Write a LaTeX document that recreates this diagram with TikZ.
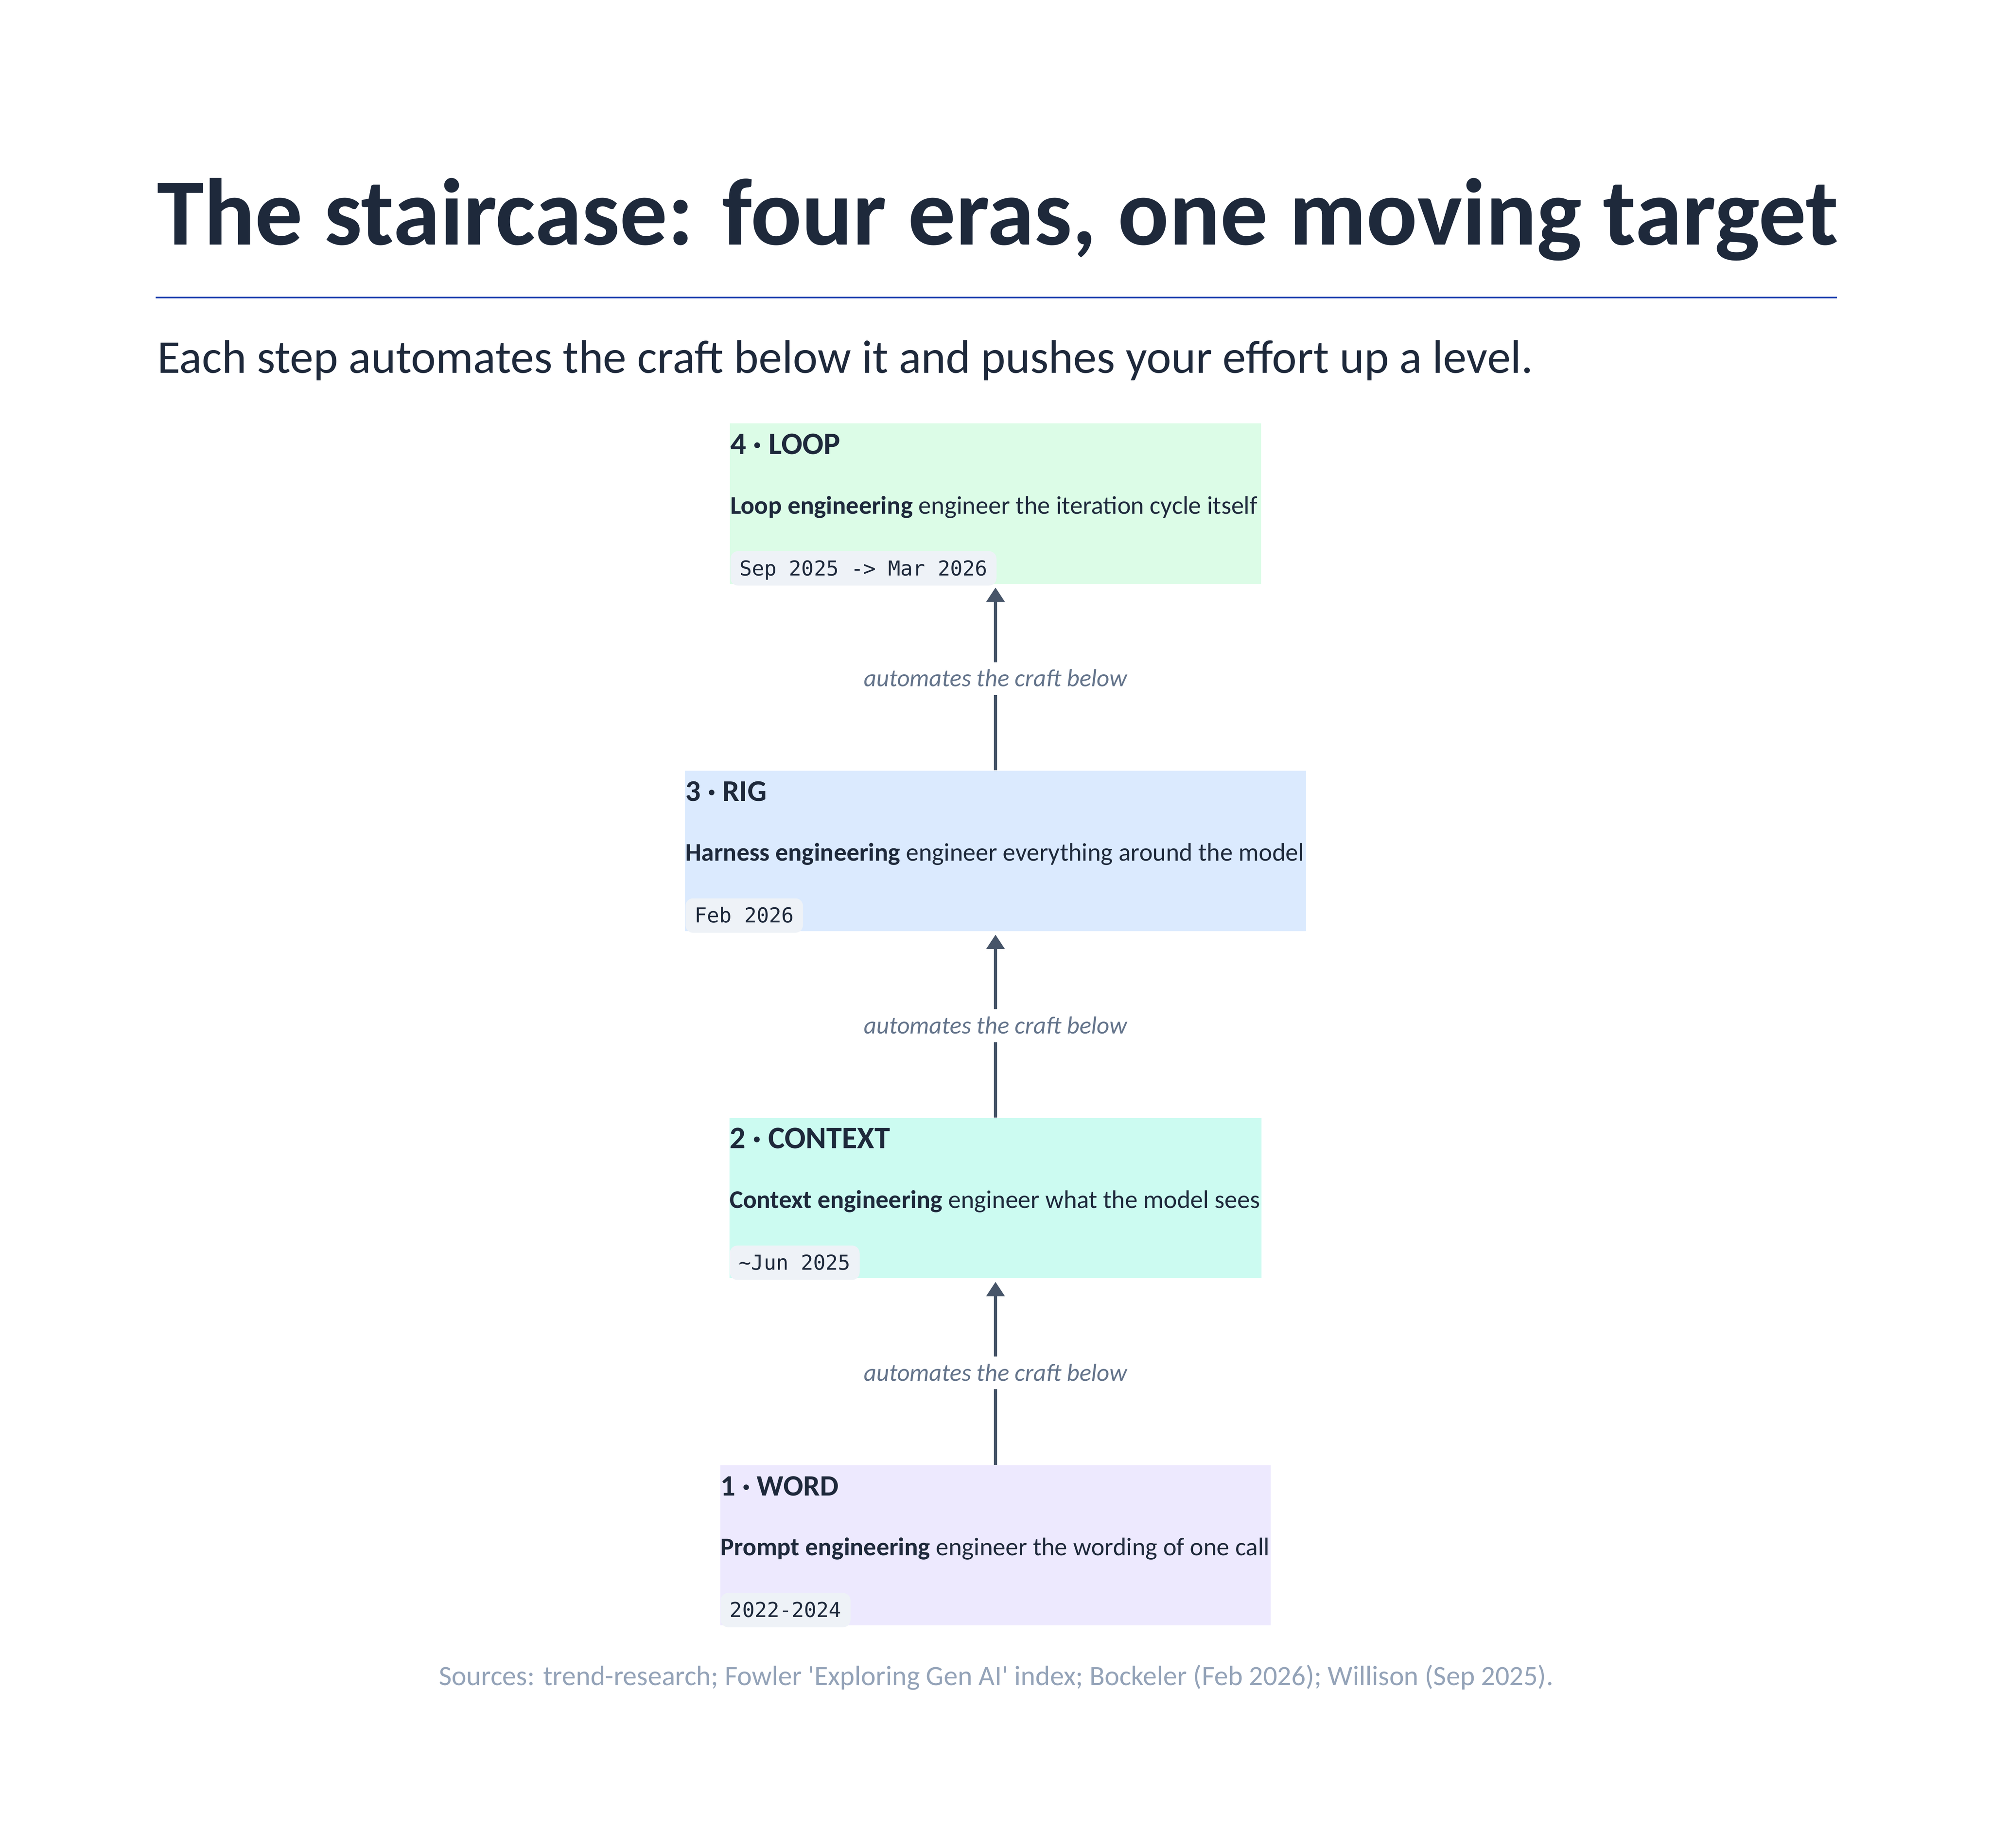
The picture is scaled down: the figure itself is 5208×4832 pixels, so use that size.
\documentclass[tikz,border=0pt]{standalone}
\usepackage{fontspec}
\setmainfont{Carlito}
\setmonofont{DejaVu Sans Mono}
\usetikzlibrary{arrows.meta}
\definecolor{ink}{HTML}{1E293B}
\definecolor{rulec}{HTML}{1E40AF}
\definecolor{arrowc}{HTML}{475569}
\definecolor{labelc}{HTML}{64748B}
\definecolor{srcc}{HTML}{94A3B8}
\definecolor{tagbg}{HTML}{EEF2F7}
\definecolor{fillg}{HTML}{DCFCE7}
\definecolor{fillb}{HTML}{DBEAFE}
\definecolor{fillt}{HTML}{CCFBF1}
\definecolor{fillv}{HTML}{EDE9FE}
\newcommand{\fitw}[2]{\resizebox{#1}{!}{\fontsize{20pt}{24pt}\selectfont #2}}
\begin{document}
\begin{tikzpicture}[x=0.01cm,y=-0.01cm,
  erabox/.style={rectangle, inner sep=0pt, minimum height=4.19cm, draw=none},
  txt/.style={anchor=base west, inner sep=0pt, text=ink},
  datetag/.style={anchor=north west, inner xsep=0.24cm, inner ysep=0pt, minimum height=0.9cm,
    text height=0.38cm, text depth=0pt, fill=tagbg, rounded corners=0.2cm, text=ink,
    font=\ttfamily\fontsize{15.3pt}{18pt}\selectfont},
  lbl/.style={anchor=base, inner xsep=0pt, inner ysep=0.11cm, text height=0.52cm, text depth=0.1cm, text=labelc},
  conn/.style={draw=arrowc, line width=0.077cm},
  connarrow/.style={conn, -{Triangle[length=0.376cm, width=0.47cm]}, shorten >=0.09cm}
]
\fill[white] (0,0) rectangle (5208,4832);
\useasboundingbox (0,0) rectangle (5208,4832);

% heading
\node[txt] (title) at (410,640) {\fitw{43.95cm}{\bfseries The staircase: four eras, one moving target}};
\draw[rulec, line width=0.04cm] (407,778) -- (4805,778);
\node[txt] (subtitle) at (411,975) {\fitw{35.97cm}{Each step automates the craft below it and pushes your effort up a level.}};

% boxes
\node[erabox, fill=fillg, minimum width=13.88cm] (b4) at (2604,1317.2) {};
\node[erabox, fill=fillb, minimum width=16.23cm] (b3) at (2604,2225.1) {};
\node[erabox, fill=fillt, minimum width=13.914cm] (b2) at (2604,3133.1) {};
\node[erabox, fill=fillv, minimum width=14.39cm] (b1) at (2604,4041.5) {};

% box 4
\node[txt] (t4) at (1910,1187.7) {\fitw{2.87cm}{\bfseries 4 · LOOP}};
\node[txt] (d4) at (1910,1343.7) {\fitw{13.78cm}{{\bfseries Loop engineering} engineer the iteration cycle itself}};
\node[datetag] (g4) at (1910,1440.7) {Sep 2025 -> Mar 2026};

% box 3
\node[txt] (t3) at (1792.5,2095.6) {\fitw{2.12cm}{\bfseries 3 · RIG}};
\node[txt] (d3) at (1792.5,2251.6) {\fitw{16.17cm}{{\bfseries Harness engineering} engineer everything around the model}};
\node[datetag] (g3) at (1792.5,2348.6) {Feb 2026};

% box 2
\node[txt] (t2) at (1908.3,3003.6) {\fitw{4.19cm}{\bfseries 2 · CONTEXT}};
\node[txt] (d2) at (1908.3,3159.6) {\fitw{13.86cm}{{\bfseries Context engineering} engineer what the model sees}};
\node[datetag] (g2) at (1908.3,3256.6) {\textasciitilde Jun 2025};

% box 1
\node[txt] (t1) at (1884.5,3912) {\fitw{3.08cm}{\bfseries 1 · WORD}};
\node[txt] (d1) at (1884.5,4068) {\fitw{14.35cm}{{\bfseries Prompt engineering} engineer the wording of one call}};
\node[datetag] (g1) at (1884.5,4165) {2022-2024};

% connector labels
\node[lbl] (l4) at (2604,1795.6) {\fitw{6.88cm}{\itshape automates the craft below}};
\node[lbl] (l3) at (2604,2703.6) {\fitw{6.88cm}{\itshape automates the craft below}};
\node[lbl] (l2) at (2604,3611.6) {\fitw{6.88cm}{\itshape automates the craft below}};

% connectors
\draw[conn] (b3.north) -- (l4.south);
\draw[connarrow] (l4.north) -- (b4.south);
\draw[conn] (b2.north) -- (l3.south);
\draw[connarrow] (l3.north) -- (b3.south);
\draw[conn] (b1.north) -- (l2.south);
\draw[connarrow] (l2.north) -- (b2.south);

% sources
\node[anchor=base, inner sep=0pt, text=srcc] (src) at (2606,4407) {\fitw{29.13cm}{Sources: trend-research; Fowler \textquotesingle Exploring Gen AI\textquotesingle\ index; Bockeler (Feb 2026); Willison (Sep 2025).}};
\end{tikzpicture}
\end{document}
